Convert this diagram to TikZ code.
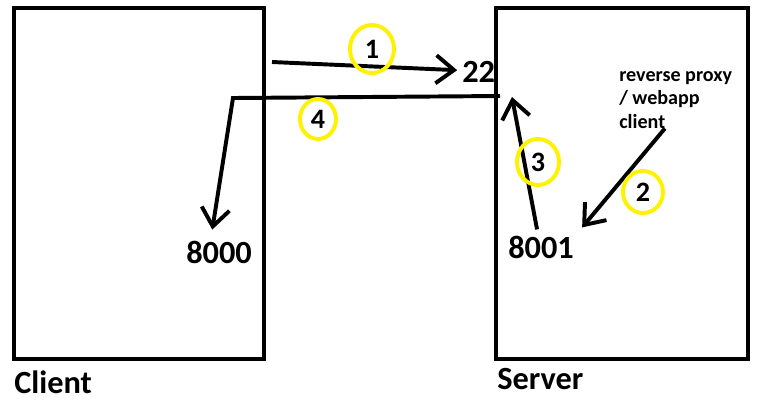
\documentclass[tikz,border=0pt]{standalone}
\usepackage{fontspec}
\setmainfont{Carlito}
\usepackage{tikz}
\usetikzlibrary{shapes.geometric, arrows.meta, calc}
\definecolor{paintyellow}{RGB}{255,242,0}

\begin{document}
\begin{tikzpicture}[x=0.025cm, y=-0.025cm, >={Straight Barb[length=4.5mm, width=7mm]},
    hostbox/.style={draw, line width=3.2pt, inner sep=0pt},
    hostlabel/.style={anchor=base west, inner sep=0pt, font=\fontsize{23}{27}\selectfont\bfseries},
    port/.style={anchor=base west, inner sep=0pt, font=\fontsize{23}{27}\selectfont\bfseries},
    stepmark/.style={ellipse, draw=paintyellow, line width=2.8pt, inner sep=0pt, font=\fontsize{20}{24}\selectfont\bfseries},
    flow/.style={->, line width=2.8pt}]
        \useasboundingbox (0,0) rectangle (757,404);

        \node[hostbox, minimum width=6.25cm, minimum height=8.775cm] (client) at (139,183.5) {};
        \node[hostbox, minimum width=6.3cm, minimum height=8.775cm] (server) at (622,183.5) {};
        \node[hostlabel] (clientlbl) at (14,393) {Client};
        \node[hostlabel] (serverlbl) at (497,389) {Server};

        \node[port] (p22) at (462,82) {22};
        \node[port] (p8000) at (186,263) {8000};
        \node[port] (p8001) at (508,258) {8001};
        % base of a multi-line node is its last line
        \node[anchor=base west, inner sep=0pt, align=left, font=\fontsize{14.3}{16.4}\selectfont\bfseries] (proxy) at (619,128) {reverse proxy\\/ webapp\\client};

        \coordinate (c1) at (272,62);
        \coordinate (c4) at (500,96);
        \coordinate (bend4) at (233,98);
        \coordinate (t3) at (512,97);

        \draw[flow] (c1) -- ([xshift=-0.12cm, yshift=0.03cm]p22.west);
        \draw[flow] (c4) -- (bend4) -- ([xshift=-0.17cm, yshift=0.27cm]p8000.north);
        \draw[flow] ([xshift=-0.1cm, yshift=0.15cm]p8001.north) -- (t3);
        \draw[flow] ([xshift=-0.27cm]proxy.south) -- ([xshift=0.2cm, yshift=0.2cm]p8001.north east);

        \node[stepmark, minimum width=1.1cm, minimum height=1.2cm] (s1) at (372,49) {1};
        \node[stepmark, minimum width=1.0cm, minimum height=1.05cm] (s2) at (643,192) {2};
        \node[stepmark, minimum width=1.05cm, minimum height=1.15cm] (s3) at (538,162) {3};
        \node[stepmark, minimum width=0.9cm, minimum height=1.0cm] (s4) at (318,119) {4};
\end{tikzpicture}
\end{document}
